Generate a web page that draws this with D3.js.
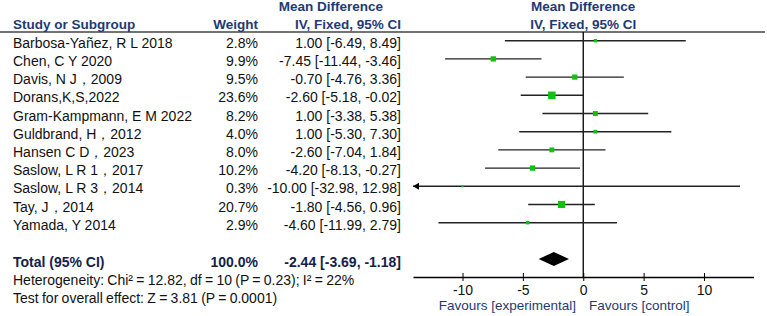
<!DOCTYPE html>
<html>
<head>
<meta charset="utf-8">
<script src="https://cdn.jsdelivr.net/npm/d3@7"></script>
<style>
  body { margin: 0; background: #fff; }
  text { font-family: Arial, "Liberation Sans", sans-serif; }
</style>
</head>
<body>
<svg id="viz" width="767" height="316"></svg>
<script>
// study rows
const studies = ["Barbosa-Yañez, R L 2018", "Chen, C Y 2020", "Davis, N J，2009", "Dorans,K,S,2022",
    "Gram-Kampmann, E M 2022", "Guldbrand, H，2012", "Hansen C D，2023", "Saslow, L R 1，2017",
    "Saslow, L R 3，2014", "Tay, J，2014", "Yamada, Y 2014"];
const weights = [2.8, 9.9, 9.5, 23.6, 8.2, 4.0, 8.0, 10.2, 0.3, 20.7, 2.9];
const means = [1.00, -7.45, -0.70, -2.60, 1.00, 1.00, -2.60, -4.20, -10.00, -1.80, -4.60];
const lows = [-6.49, -11.44, -4.76, -5.18, -3.38, -5.30, -7.04, -8.13, -32.98, -4.56, -11.99];
const highs = [8.49, -3.46, 3.36, -0.02, 5.38, 7.30, 1.84, -0.27, 12.98, 0.96, 2.79];

const total = {mean: -2.44, low: -3.69, high: -1.18, weight: "100.0%"};
const tickValues = [-10, -5, 0, 5, 10];

const navy = "#1f3a73";
// plain hyphen as minus sign, like the original
const fmt = d => d.toFixed(2);

let dims = {width: 767, height: 316, axisY: 277, headerY: 32};

var svg = d3.select("#viz");

var x = d3.scaleLinear()
    .domain([-14.1, 14.1])
    .range([413, 753.5]);

var y = d3.scaleLinear()
    .domain([0, 10])
    .range([40.7, 222.7]);

var size = d3.scaleSqrt()
    .domain([0, 23.6])
    .range([1.2, 7.5]);

// header
svg.append("line")
    .attr("x1", 0).attr("x2", 765)
    .attr("y1", dims.headerY).attr("y2", dims.headerY)
    .attr("stroke", "#444").attr("stroke-width", 1.5);

const headers = [
    {t: "Study or Subgroup", x: 13, y: 29, a: "start"},
    {t: "Weight", x: 258, y: 29, a: "end"},
    {t: "Mean Difference", x: 331, y: 11, a: "middle"},
    {t: "IV, Fixed, 95% CI", x: 401, y: 29, a: "end"},
    {t: "Mean Difference", x: x(0), y: 11, a: "middle"},
    {t: "IV, Fixed, 95% CI", x: x(0), y: 29, a: "middle"}
];
svg.selectAll(".hdr").data(headers).join("text")
    .attr("class", "hdr")
    .attr("x", d => d.x).attr("y", d => d.y)
    .attr("text-anchor", d => d.a)
    .attr("font-size", "13.5px").attr("font-weight", "bold")
    .attr("fill", navy)
    .text(d => d.t);

// table rows
var rows = svg.selectAll(".row").data(studies).join("g")
    .attr("class", "row")
    .attr("transform", (d, i) => `translate(0,${y(i) + 7})`);

rows.append("text").attr("x", 13).text(d => d);
rows.append("text").attr("x", 258).attr("text-anchor", "end")
    .text((d, i) => weights[i].toFixed(1) + "%");
rows.append("text").attr("x", 401).attr("text-anchor", "end")
    .text((d, i) => `${fmt(means[i])} [${fmt(lows[i])}, ${fmt(highs[i])}]`);
rows.selectAll("text").attr("font-size", "14px").attr("fill", "#111");

// zero line
svg.append("line")
    .attr("x1", x(0)).attr("x2", x(0))
    .attr("y1", dims.headerY).attr("y2", dims.axisY)
    .attr("stroke", "#000").attr("stroke-width", 1.3);

// CI lines, clipped with arrow if off-scale
const [dMin, dMax] = x.domain();
studies.forEach((s, i) => {
    let lo = Math.max(lows[i], dMin), hi = Math.min(highs[i], dMax);
    svg.append("line")
        .attr("x1", x(lo)).attr("x2", x(hi))
        .attr("y1", y(i)).attr("y2", y(i))
        .attr("stroke", "#222").attr("stroke-width", 1.4);
    if (lows[i] < dMin) {
        svg.append("path")
            .attr("d", `M${x(lo)},${y(i)} l6,-3.5 l0,7 Z`)
            .attr("fill", "#000");
    }
    let s2 = size(weights[i]);
    svg.append("rect")
        .attr("x", x(means[i]) - s2 / 2).attr("y", y(i) - s2 / 2)
        .attr("width", s2).attr("height", s2)
        .attr("fill", "#11c011");
});

// total row
let totY = 259;
let totRow = svg.append("g").attr("transform", `translate(0,${totY + 8})`);
totRow.append("text").attr("x", 13).text("Total (95% CI)");
totRow.append("text").attr("x", 258).attr("text-anchor", "end").text(total.weight);
totRow.append("text").attr("x", 401).attr("text-anchor", "end")
    .text(`${fmt(total.mean)} [${fmt(total.low)}, ${fmt(total.high)}]`);
totRow.selectAll("text").attr("font-size", "14px").attr("font-weight", "bold").attr("fill", "#14224a");

svg.append("path")
    .attr("d", `M${x(total.low)},${totY} L${x(total.mean)},${totY - 7} L${x(total.high)},${totY} L${x(total.mean)},${totY + 7} Z`)
    .attr("fill", "#000");

const footer = ["Heterogeneity: Chi² = 12.82, df = 10 (P = 0.23); I² = 22%",
    "Test for overall effect: Z = 3.81 (P = 0.0001)"];
svg.selectAll(".foot").data(footer).join("text")
    .attr("class", "foot")
    .attr("x", 13).attr("y", (d, i) => 285 + i * 18)
    .attr("font-size", "14px").attr("fill", "#111")
    .attr("word-spacing", "-0.6px")
    .text(d => d);

// axis
var axis = svg.append("g")
    .attr("transform", `translate(0,${dims.axisY})`)
    .call(d3.axisBottom(x).tickValues(tickValues).tickFormat(d => String(d))
        .tickSize(4).tickSizeOuter(0));
axis.select(".domain").attr("stroke", "#000").attr("stroke-width", 1.3);
axis.selectAll(".tick line").attr("y1", -4).attr("y2", 4).attr("stroke", "#000");
axis.selectAll(".tick text")
    .attr("y", 8).attr("font-size", "14px").attr("fill", "#111")
    .attr("font-family", "Arial, 'Liberation Sans', sans-serif");

svg.append("text")
    .attr("x", 576).attr("y", 310).attr("text-anchor", "end")
    .attr("font-size", "13.5px").attr("fill", navy)
    .text("Favours [experimental]");
svg.append("text")
    .attr("x", 589).attr("y", 310)
    .attr("font-size", "13.5px").attr("fill", navy)
    .text("Favours [control]");
</script>
</body>
</html>
